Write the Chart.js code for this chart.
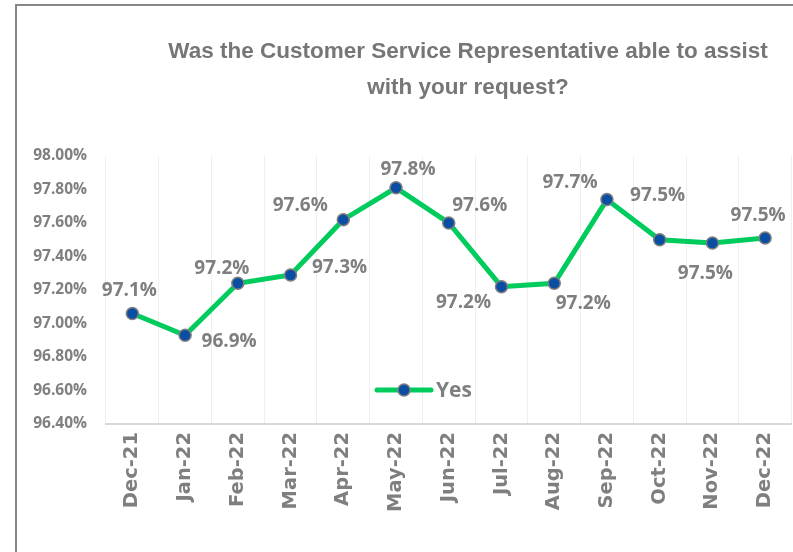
<!DOCTYPE html>
<html>
<head>
<meta charset="utf-8">
<script src="https://cdn.jsdelivr.net/npm/chart.js@4"></script>
<style>
    html, body { margin: 0; padding: 0; background: #fff; overflow: hidden; }
    .frame {
        position: absolute; left: 15px; top: 4px;
        width: 800px; height: 560px;
        border-left: 2px solid #878787; border-top: 2px solid #878787;
    }
    #chartBox { position: absolute; left: 17px; top: 0; width: 782px; height: 552px; }
</style>
</head>
<body>
<div class="frame"></div>
<div id="chartBox"><canvas id="surveyChart"></canvas></div>
<script>
// Chart data
const months = ['Dec-21', 'Jan-22', 'Feb-22', 'Mar-22', 'Apr-22', 'May-22', 'Jun-22',
    'Jul-22', 'Aug-22', 'Sep-22', 'Oct-22', 'Nov-22', 'Dec-22'];
const yesValues = [97.06, 96.93, 97.24, 97.29, 97.62, 97.81, 97.60, 97.22, 97.24, 97.74, 97.50, 97.48, 97.51];
const seriesName = 'Yes';
const titleLines = ['Was the Customer Service Representative able to assist', 'with your request?'];

// where each value label sits, relative to its point (text centre)
const labelOffsets = [[-3, -23], [44, 6], [-16, -15], [49, -7], [-43, -14], [12, -18], [31, -17],
    [-38, 16], [29, 20], [-37, -17], [-2, -44], [-7, 30], [-7, -22]];

const GREY = '#7f7f7f';
const GREEN = '#00cc5e';
const BLUE = '#0a4ea3';
const FONT = "'Open Sans', 'DejaVu Sans', sans-serif";

// title drawn off-centre like the original sheet
const titlePlugin = {
    id: 'sheetTitle',
    afterDraw(chart) {
        const ctx = chart.ctx;
        ctx.save();
        ctx.fillStyle = '#767676';
        ctx.font = "bold 22.5px 'Liberation Sans', sans-serif";
        ctx.textAlign = 'center';
        ctx.textBaseline = 'middle';
        ctx.fillText(titleLines[0], 451, 52);
        ctx.fillText(titleLines[1], 451, 88);
        ctx.restore();
    }
};

// value labels next to every point
const valueLabels = {
    id: 'valueLabels',
    afterDatasetsDraw(chart) {
        const ctx = chart.ctx;
        const meta = chart.getDatasetMeta(0);
        ctx.save();
        ctx.fillStyle = GREY;
        ctx.font = 'bold 19px ' + FONT;
        ctx.textAlign = 'center';
        ctx.textBaseline = 'middle';
        meta.data.forEach((pt, i) => {
            const off = labelOffsets[i];
            ctx.fillText(yesValues[i].toFixed(1) + '%', pt.x + off[0], pt.y + off[1]);
        });
        ctx.restore();
    }
};

// legend sits inside the plot area
const innerLegend = {
    id: 'innerLegend',
    afterDraw(chart) {
        const ctx = chart.ctx;
        const y = 390;
        ctx.save();
        ctx.strokeStyle = GREEN;
        ctx.lineWidth = 5;
        ctx.lineCap = 'round';
        ctx.beginPath();
        ctx.moveTo(360, y);
        ctx.lineTo(414, y);
        ctx.stroke();
        ctx.beginPath();
        ctx.arc(387, y, 6, 0, Math.PI * 2);
        ctx.fillStyle = BLUE;
        ctx.fill();
        ctx.lineWidth = 1.5;
        ctx.strokeStyle = GREY;
        ctx.stroke();
        ctx.fillStyle = GREY;
        ctx.font = 'bold 21px ' + FONT;
        ctx.textAlign = 'left';
        ctx.textBaseline = 'middle';
        ctx.fillText(seriesName, 419, y + 1);
        ctx.restore();
    }
};

const ctx = document.getElementById('surveyChart').getContext('2d');
new Chart(ctx, {
    type: 'line',
    data: {
        labels: months,
        datasets: [{
            label: seriesName,
            data: yesValues,
            borderColor: GREEN,
            borderWidth: 5,
            backgroundColor: BLUE,
            pointBackgroundColor: BLUE,
            pointBorderColor: GREY,
            pointBorderWidth: 1.5,
            pointRadius: 6,
            tension: 0,
            fill: false,
            clip: false
        }]
    },
    options: {
        responsive: true,
        maintainAspectRatio: false,
        animation: false,
        layout: { padding: { top: 156, left: 0, right: 0, bottom: 0 } },
        plugins: {
            legend: { display: false },
            title: { display: false },
            tooltip: { enabled: false }
        },
        scales: {
            x: {
                offset: true,
                grid: { offset: true, color: '#efefef', lineWidth: 1, drawTicks: false },
                border: { color: '#d9d9d9', width: 2 },
                ticks: {
                    color: GREY,
                    font: { family: "'DejaVu Sans', sans-serif", size: 19.5, weight: 'bold' },
                    minRotation: 90,
                    maxRotation: 90,
                    padding: 8,
                    autoSkip: false
                },
                afterFit(scale) { scale.height = 128; }
            },
            y: {
                min: 96.4,
                max: 98.0,
                grid: { display: false, drawTicks: false },
                border: { display: false },
                ticks: {
                    stepSize: 0.2,
                    color: GREY,
                    font: { family: FONT, size: 15.5, weight: 'bold' },
                    padding: 19,
                    callback: (v) => v.toFixed(2) + '%'
                },
                afterFit(scale) { scale.width = 89; }
            }
        }
    },
    plugins: [titlePlugin, valueLabels, innerLegend]
});
</script>
</body>
</html>
